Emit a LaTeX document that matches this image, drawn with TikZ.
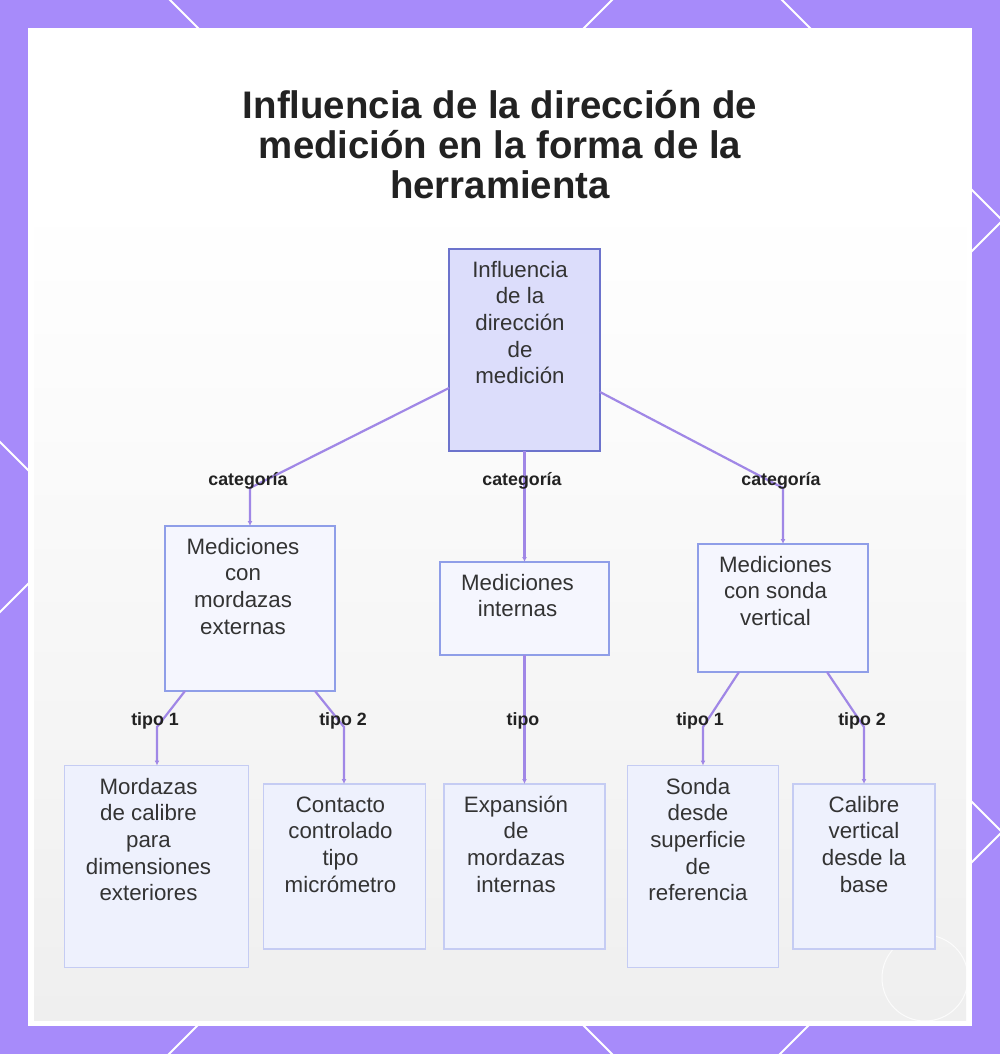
\documentclass[tikz,border=0pt]{standalone}
\usepackage{fontspec}
\setmainfont{Liberation Sans}
\usetikzlibrary{arrows.meta}
\definecolor{framec}{HTML}{A78BFA}
\definecolor{edgec}{HTML}{A087E6}
\definecolor{rootf}{HTML}{DCDDFB}
\definecolor{rootb}{HTML}{6C73CC}
\definecolor{midf}{HTML}{F5F6FE}
\definecolor{midb}{HTML}{8F9EE8}
\definecolor{leaff}{HTML}{EEF1FD}
\definecolor{leafb}{HTML}{C5CCF3}
\definecolor{textc}{HTML}{333333}
\definecolor{titlec}{HTML}{222222}
\definecolor{panelb}{HTML}{EFEFEF}
\newcommand\mynodefont{\fontsize{22.3}{26.6}\selectfont}
\newcommand\mylblfont{\fontsize{17.8}{20}\selectfont\bfseries}
\newcommand\mytitlefont{\fontsize{38.4}{40}\selectfont\bfseries}
\newcommand\firstrule[1]{\rule{0pt}{#1}}
\tikzset{
  boxbase/.style={rectangle, inner sep=0pt, outer sep=0pt, line width=1.5pt},
  rootbox/.style={boxbase, draw=rootb, fill=rootf},
  midbox/.style={boxbase, draw=midb, fill=midf},
  leafbox/.style={boxbase, draw=leafb, fill=leaff},
  txt/.style={font=\mynodefont, text=textc, align=center, inner sep=0pt, anchor=north},
  lbl/.style={font=\mylblfont, text=titlec, inner sep=0pt, anchor=base},
  edge/.style={draw=edgec, line width=2.2pt, -{Latex[length=5pt,width=5pt]}},
  lattice/.style={draw=white, line width=2pt},
}
\begin{document}
\begin{tikzpicture}[x=1pt,y=-1pt]
\useasboundingbox (0,0) rectangle (1000,1054);
% frame
\fill[framec] (0,0) rectangle (1000,1054);
\begin{scope}
\clip (0,0) rectangle (1000,1054);
\foreach \c in {-442,170,782} { \draw[lattice] (\c-20,-20) -- (\c+1074,1074); }
\foreach \d in {612,1223,1834} { \draw[lattice] (\d+20,-20) -- (\d-1074,1074); }
\end{scope}
% panel
\fill[white] (28,28) rectangle (972,1026);
\shade[top color=white, bottom color=panelb, middle color=white!97!black] (34,200) rectangle (966,1020);
\draw[white, line width=1pt, opacity=0.8] (925,978) circle (43);
% title
\node[font=\mytitlefont, text=titlec, align=center, inner sep=0pt, anchor=north] (title) at (500,86)
  {\firstrule{32pt}Influencia de la dirección de\\medición en la forma de la\\herramienta};
% boxes
\node[rootbox, minimum width=151pt, minimum height=202pt] (R) at (524.5,350) {};
\node[midbox, minimum width=170pt, minimum height=165pt] (A) at (250,608.5) {};
\node[midbox, minimum width=169pt, minimum height=93pt] (B) at (524.5,608.5) {};
\node[midbox, minimum width=170pt, minimum height=128pt] (C) at (783,608) {};
\node[leafbox, minimum width=184pt, minimum height=202pt] (D) at (156.5,866.5) {};
\node[leafbox, minimum width=162pt, minimum height=165pt] (E) at (344.5,866.5) {};
\node[leafbox, minimum width=161pt, minimum height=165pt] (F) at (524.5,866.5) {};
\node[leafbox, minimum width=151pt, minimum height=202pt] (G) at (703,866.5) {};
\node[leafbox, minimum width=142pt, minimum height=165pt] (H) at (864,866.5) {};
% texts
\node[txt] (Rt) at (520,258) {\firstrule{19pt}Influencia\\de la\\dirección\\de\\medición};
\node[txt] (At) at (243,535) {\firstrule{19pt}Mediciones\\con\\mordazas\\externas};
\node[txt] (Bt) at (517.5,571) {\firstrule{19pt}Mediciones\\internas};
\node[txt] (Ct) at (775.5,553) {\firstrule{19pt}Mediciones\\con sonda\\vertical};
\node[txt] (Dt) at (148.5,775) {\firstrule{19pt}Mordazas\\de calibre\\para\\dimensiones\\exteriores};
\node[txt] (Et) at (340.5,793) {\firstrule{19pt}Contacto\\controlado\\tipo\\micrómetro};
\node[txt] (Ft) at (516,793) {\firstrule{19pt}Expansión\\de\\mordazas\\internas};
\node[txt] (Gt) at (698,775) {\firstrule{19pt}Sonda\\desde\\superficie\\de\\referencia};
\node[txt] (Ht) at (864,793) {\firstrule{19pt}Calibre\\vertical\\desde la\\base};
% bend points
\coordinate (k1) at (250,488);
\coordinate (k2) at (783,488);
\coordinate (k3) at (157,727);
\coordinate (k4) at (344,727);
\coordinate (k5) at (703,727);
\coordinate (k6) at (864,727);
% edges
\draw[edge] ([yshift=-38pt]R.west) -- (k1) -- (k1 |- A.north);
\draw[edge] (R.south) -- (B.north);
\draw[edge] ([yshift=-42pt]R.east) -- (k2) -- (k2 |- C.north);
\draw[edge] ([xshift=-65pt]A.south) -- (k3) -- (k3 |- D.north);
\draw[edge] ([xshift=65pt]A.south) -- (k4) -- (k4 |- E.north);
\draw[edge] (B.south) -- (F.north);
\draw[edge] ([xshift=-44pt]C.south) -- (k5) -- (k5 |- G.north);
\draw[edge] ([xshift=44pt]C.south) -- (k6) -- (k6 |- H.north);
% labels
\node[lbl] (l1) at (248,485) {categoría};
\node[lbl] (l2) at (522,485) {categoría};
\node[lbl] (l3) at (781,485) {categoría};
\node[lbl] (l4) at (155,725) {tipo 1};
\node[lbl] (l5) at (343,725) {tipo 2};
\node[lbl] (l6) at (523,725) {tipo};
\node[lbl] (l7) at (700,725) {tipo 1};
\node[lbl] (l8) at (862,725) {tipo 2};
\end{tikzpicture}
\end{document}
